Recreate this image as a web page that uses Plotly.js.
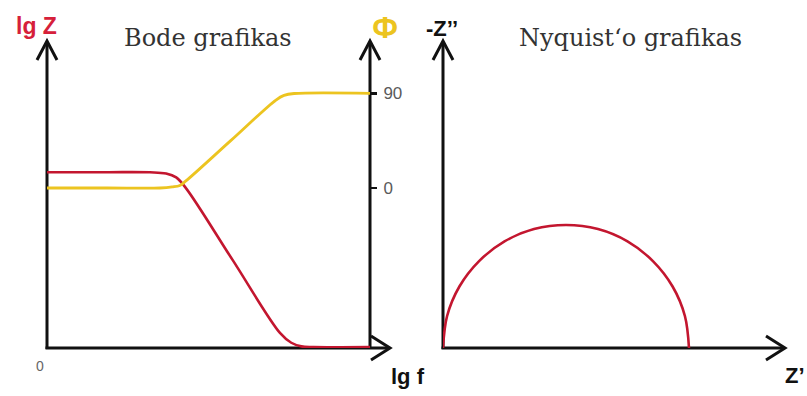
<!DOCTYPE html>
<html>
<head>
<meta charset="utf-8">
<script src="https://cdn.plot.ly/plotly-3.0.1.min.js"></script>
<style>
  html, body { margin: 0; padding: 0; background: #ffffff; }
  #chart { width: 807px; height: 396px; }
</style>
</head>
<body>
<div id="chart"></div>
<script>
// Bode plot: impedance magnitude and phase vs log frequency
const lgF_Z = [0, 1.5, 2.55, 2.95, 3.2, 3.45, 4.6, 5.77, 6.05, 6.3, 6.6, 8];
const lgZ   = [2.68, 2.68, 2.678, 2.66, 2.6, 2.43, 1.339, 0.23, 0.08, 0.025, 0.015, 0.015];

const lgF_phi = [0, 1.5, 2.80, 3.10, 3.29, 3.44, 4.55, 5.67, 5.87, 6.12, 8];
const phi     = [0, 0, 0, 1, 2.4, 6.7, 45, 83.6, 88, 89.8, 90];

const phiTicks  = [0, 90];
const phiLabels = ['0', '90'];

// Nyquist plot: semicircle of -Z'' against Z'
const zReal = [0, 0.10, 0.40, 0.88, 1.50, 2.22, 3.00, 3.78, 4.50, 5.12, 5.60, 5.90, 6.00];
const zImag = [0, 0.78, 1.50, 2.12, 2.60, 2.90, 3.00, 2.90, 2.60, 2.12, 1.50, 0.78, 0];

const W = 807, H = 396;
const px = x => x / W;
const py = y => 1 - y / H;

const RED = '#c3162f';
const GOLD = '#ecc420';
const AX = '#111111';

const traces = [
  { x: lgF_Z, y: lgZ, xaxis: 'x', yaxis: 'y', mode: 'lines',
    line: { color: RED, width: 2.6, shape: 'spline', smoothing: 1 }, hoverinfo: 'skip' },
  { x: lgF_phi, y: phi, xaxis: 'x', yaxis: 'y2', mode: 'lines',
    line: { color: GOLD, width: 2.8, shape: 'spline', smoothing: 1 }, hoverinfo: 'skip' },
  { x: zReal, y: zImag, xaxis: 'x2', yaxis: 'y3', mode: 'lines',
    line: { color: RED, width: 2.6, shape: 'spline' }, hoverinfo: 'skip' }
];

// axis lines with open arrowheads
function seg(x0, y0, x1, y1) {
  return { type: 'line', xref: 'paper', yref: 'paper', layer: 'below',
    x0: px(x0), y0: py(y0), x1: px(x1), y1: py(y1),
    line: { color: AX, width: 3 } };
}
function head(pts) {
  const d = pts.map((p, i) => (i ? 'L' : 'M') + px(p[0]) + ',' + py(p[1])).join(' ');
  return { type: 'path', xref: 'paper', yref: 'paper', layer: 'below', path: d,
    line: { color: AX, width: 3 } };
}
const shapes = [
  seg(47, 349, 47, 42), head([[37, 60], [47, 41], [57, 60]]),
  seg(45.5, 348, 389, 348), head([[371, 336], [390, 348], [371, 360]]),
  seg(370, 349, 370, 42), head([[360, 60], [370, 41], [380, 60]]),
  seg(443, 349, 443, 42), head([[433, 60], [443, 41], [453, 60]]),
  seg(441.5, 348, 784, 348), head([[766, 336], [785, 348], [766, 360]])
];

function label(text, x, y, font, xanchor) {
  return { text: text, xref: 'paper', yref: 'paper', x: px(x), y: py(y),
    xanchor: xanchor || 'center', yanchor: 'middle', showarrow: false, font: font };
}
const boldSans = (c, s) => ({ family: 'Liberation Sans, Arial, sans-serif', size: s, color: c, weight: 'bold' });
const serif = { family: 'DejaVu Serif, serif', size: 24, color: '#333333' };

const annotations = [
  label('Bode grafikas', 208, 38, serif),
  label('Nyquist‘o grafikas', 630, 38, serif),
  label('<b>lg Z</b>', 36, 26, boldSans('#d6203a', 23)),
  label('Φ', 385, 27, { family: 'Noto Sans, sans-serif', size: 29, color: GOLD, weight: 700 }),
  label('<b>-Z’’</b>', 442, 29, boldSans('#111111', 22)),
  label('<b>lg f</b>', 408, 376, boldSans('#111111', 22)),
  label('<b>Z’</b>', 795, 375, boldSans('#111111', 22)),
  label('0', 40, 366, { family: 'Liberation Sans, Arial, sans-serif', size: 14, color: '#666666' })
];

// pixel placement of the plotting areas
const yDom = [py(348), py(20)];
const phiLo = -(348 - 188) / 94.7 * 90;
const phiHi = (188 - 20) / 94.7 * 90;

const layout = {
  width: W, height: H,
  margin: { l: 0, r: 0, t: 0, b: 0 },
  paper_bgcolor: '#ffffff', plot_bgcolor: 'rgba(0,0,0,0)',
  showlegend: false,
  xaxis: { domain: [px(47), px(370)], range: [0, 8], visible: false, anchor: 'y' },
  yaxis: { domain: yDom, range: [0, 5], visible: false, anchor: 'x' },
  yaxis2: { overlaying: 'y', side: 'right', anchor: 'x', range: [phiLo, phiHi],
    showgrid: false, zeroline: false, showline: false,
    tickmode: 'array', tickvals: phiTicks, ticktext: phiLabels,
    ticks: 'outside', ticklen: 6, tickwidth: 2.5, tickcolor: AX,
    ticklabelstandoff: 3,
    tickfont: { family: 'Liberation Sans, Arial, sans-serif', size: 17, color: '#5a5a5a' } },
  xaxis2: { domain: [px(443), px(771)], range: [0, 8], visible: false, anchor: 'y3' },
  yaxis3: { domain: yDom, range: [0, 8], visible: false, anchor: 'x2' },
  shapes: shapes,
  annotations: annotations
};

Plotly.newPlot('chart', traces, layout, { staticPlot: true, displayModeBar: false });
</script>
</body>
</html>
